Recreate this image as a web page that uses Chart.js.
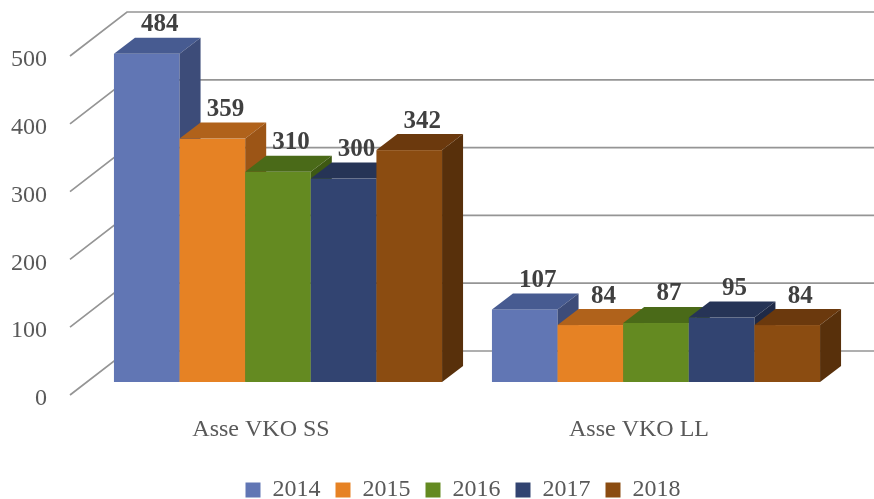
<!DOCTYPE html>
<html>
<head>
<meta charset="utf-8">
<script src="https://cdn.jsdelivr.net/npm/chart.js@4"></script>
<style>
  html, body { margin: 0; padding: 0; background: #fff; }
  #wrap { width: 874px; height: 499px; }
</style>
</head>
<body>
<div id="wrap"><canvas id="chart"></canvas></div>
<script>
// data
var categories = ['Asse VKO SS', 'Asse VKO LL'];
var years = ['2014', '2015', '2016', '2017', '2018'];
var values2014 = [484, 107];
var values2015 = [359, 84];
var values2016 = [310, 87];
var values2017 = [300, 95];
var values2018 = [342, 84];
var yTicks = [0, 100, 200, 300, 400, 500];

// face colours per series: front, top, side
var frontColors = ['#6176b4', '#e68224', '#648a21', '#324471', '#8b4c11'];
var topColors = ['#475b91', '#b0621b', '#4a6a18', '#263456', '#6b390d'];
var sideColors = ['#3d4c79', '#9c5516', '#3e5913', '#1f2a47', '#58300b'];

var seriesValues = [values2014, values2015, values2016, values2017, values2018];
var font = 'Liberation Serif';

// fake 3d: bars sit a bit behind the front plane, walls go further back
var bar3d = {
  id: 'bar3d',
  afterLayout: function(chart) {
    // legend sits a little right of centre in the original
    chart.legend.left += 13;
    chart.legend.right += 13;
  },
  beforeDatasetsDraw: function(chart) {
    var ctx = chart.ctx;
    var area = chart.chartArea;
    var yScale = chart.scales.y;
    var offX = 17, offY = -13;   // front plane -> bar front face
    var depX = 21, depY = -16;   // bar depth
    var wallX = 57, wallY = -44; // whole depth to back wall

    ctx.save();
    ctx.strokeStyle = '#959595';
    ctx.lineWidth = 1.7;
    yTicks.forEach(function(v) {
      var y = yScale.getPixelForValue(v);
      var x = area.left - 2;
      ctx.beginPath();
      ctx.moveTo(x, y);
      ctx.lineTo(x + wallX, y + wallY);
      ctx.lineTo(chart.width, y + wallY);
      ctx.stroke();
    });

    chart.data.datasets.forEach(function(ds, di) {
      var meta = chart.getDatasetMeta(di);
      meta.data.forEach(function(el) {
        var p = el.getProps(['x', 'y', 'base', 'width'], true);
        var x0 = p.x - p.width / 2 + offX;
        var x1 = x0 + p.width;
        var yt = p.y + offY;
        var yb = p.base + offY;
        ctx.fillStyle = frontColors[di];
        ctx.fillRect(x0, yt, p.width, yb - yt);
        ctx.fillStyle = topColors[di];
        ctx.beginPath();
        ctx.moveTo(x0, yt);
        ctx.lineTo(x0 + depX, yt + depY);
        ctx.lineTo(x1 + depX, yt + depY);
        ctx.lineTo(x1, yt);
        ctx.closePath();
        ctx.fill();
        ctx.fillStyle = sideColors[di];
        ctx.beginPath();
        ctx.moveTo(x1, yt);
        ctx.lineTo(x1 + depX, yt + depY);
        ctx.lineTo(x1 + depX, yb + depY);
        ctx.lineTo(x1, yb);
        ctx.closePath();
        ctx.fill();
      });
    });

    // value labels
    ctx.fillStyle = '#404040';
    ctx.font = 'bold 25px "' + font + '"';
    ctx.textAlign = 'center';
    ctx.textBaseline = 'middle';
    chart.data.datasets.forEach(function(ds, di) {
      var meta = chart.getDatasetMeta(di);
      meta.data.forEach(function(el, i) {
        var p = el.getProps(['x', 'y'], true);
        ctx.fillText(ds.data[i], p.x + offX + 13, p.y + offY - 29);
      });
    });
    ctx.restore();
    return false;
  }
};

var datasets = years.map(function(yr, i) {
  return {
    label: yr,
    data: seriesValues[i],
    backgroundColor: frontColors[i],
    borderWidth: 0,
    categoryPercentage: 0.868,
    barPercentage: 1
  };
});

new Chart(document.getElementById('chart'), {
  type: 'bar',
  data: { labels: categories, datasets: datasets },
  plugins: [bar3d],
  options: {
    responsive: true,
    maintainAspectRatio: false,
    animation: false,
    layout: { padding: { top: 56, left: 0, right: 46, bottom: -13 } },
    scales: {
      x: {
        afterFit: function(scale) { scale.height = 68; },
        grid: { display: false, drawTicks: false },
        border: { display: false },
        ticks: { color: '#595959', font: { family: font, size: 24 }, padding: 20.6 }
      },
      y: {
        min: 0,
        max: 500,
        afterFit: function(scale) { scale.width = 72; },
        grid: { display: false, drawTicks: false },
        border: { display: false },
        ticks: { stepSize: 100, labelOffset: 4, color: '#595959', font: { family: font, size: 24 }, padding: 25 }
      }
    },
    plugins: {
      tooltip: { enabled: false },
      legend: {
        position: 'bottom',
        fullSize: false,
        labels: {
          color: '#595959',
          font: { family: font, size: 24 },
          boxWidth: 15,
          boxHeight: 15,
          padding: 15
        }
      }
    }
  }
});
</script>
</body>
</html>
